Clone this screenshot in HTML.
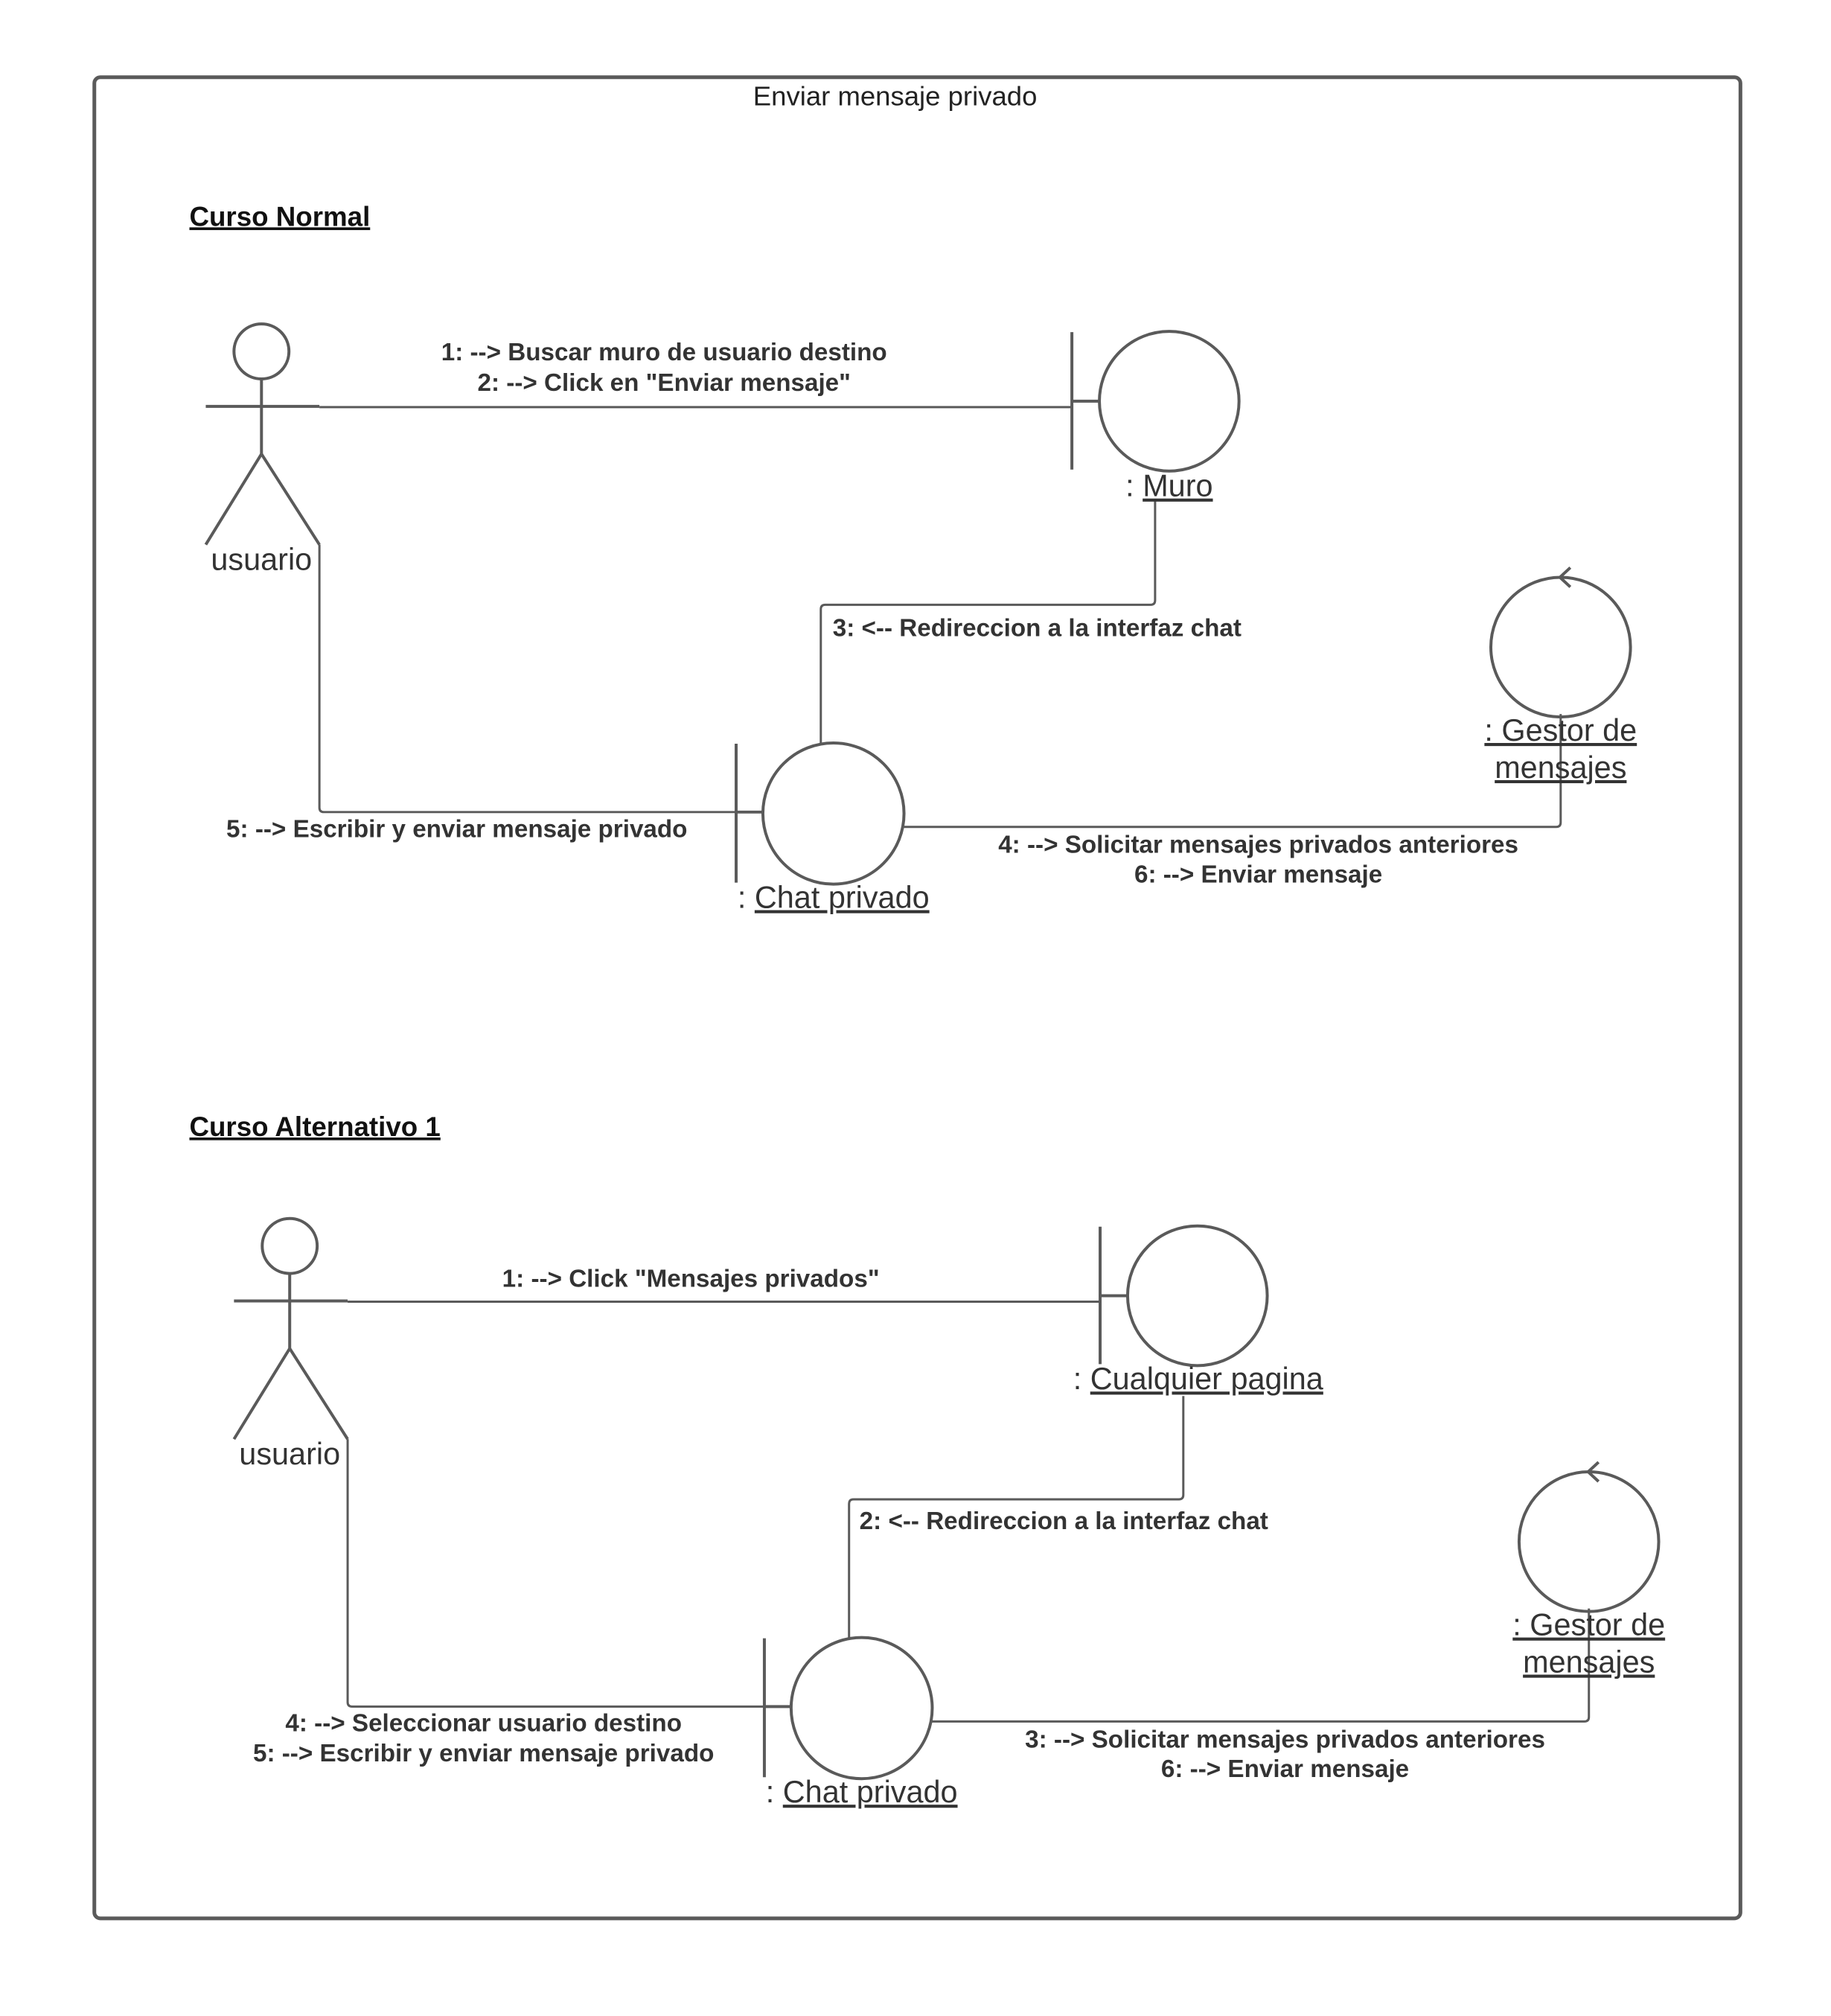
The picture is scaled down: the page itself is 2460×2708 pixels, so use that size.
<!DOCTYPE html>
<html><head><meta charset="utf-8"><style>
html,body{margin:0;padding:0;background:#fff;}
svg{display:block;}
text{font-family:"Liberation Sans",sans-serif;fill:#333;}
.b{font-weight:bold;font-size:33.3px;}
.n{font-size:41.5px;}
</style></head><body>
<svg width="2460" height="2708" viewBox="0 0 2460 2708" xmlns="http://www.w3.org/2000/svg">
<defs>
<g id="shapes" fill="none" stroke="#5a5a5a" stroke-width="4">
  <circle cx="352" cy="473" r="37"/>
  <line x1="352" y1="510" x2="352" y2="611"/>
  <line x1="277" y1="547" x2="430" y2="547"/>
  <line x1="352" y1="611" x2="277" y2="733"/>
  <line x1="352" y1="611" x2="430" y2="733"/>
  <line x1="430" y1="548" x2="1443" y2="548" stroke-width="3"/>
  <line x1="1443" y1="447" x2="1443" y2="632"/>
  <line x1="1443" y1="540" x2="1480" y2="540"/>
  <circle cx="1574" cy="540" r="94"/>
  <path d="M1555 675 V808 Q1555 814 1549 814 H1111 Q1105 814 1105 820 V1000" stroke-width="3"/>
  <line x1="991" y1="1001" x2="991" y2="1188"/>
  <line x1="991" y1="1093" x2="1028" y2="1093"/>
  <circle cx="1122" cy="1095" r="95"/>
  <path d="M430 733 V1087 Q430 1093 436 1093 H991" stroke-width="3"/>
  <path d="M1217 1113 H2095 Q2101 1113 2101 1107 V961" stroke-width="3"/>
  <circle cx="2101" cy="871" r="94"/>
  <polyline points="2114,764 2100,777 2114,790" stroke-width="4"/>
</g>
</defs>
<g transform="translate(0,0) scale(0.998)">
<rect x="127" y="104" width="2216" height="2478" rx="8" fill="none" stroke="#5a5a5a" stroke-width="5"/>
<text x="1205" y="142" text-anchor="middle" style="font-size:36.6px;fill:#222">Enviar mensaje privado</text>

<text x="255" y="304" style="font-size:36.8px;font-weight:bold;fill:#111;text-decoration:underline">Curso Normal</text>
<use href="#shapes"/>
<text class="n" x="352" y="767" text-anchor="middle">usuario</text>
<text class="b" x="894" y="485" text-anchor="middle">1: --&gt; Buscar muro de usuario destino</text>
<text class="b" x="894" y="526" text-anchor="middle">2: --&gt; Click en "Enviar mensaje"</text>
<text class="n" x="1574" y="668" text-anchor="middle">: <tspan text-decoration="underline">Muro</tspan></text>
<text class="b" x="1121" y="856">3: &lt;-- Redireccion a la interfaz chat</text>
<text class="n" x="1122" y="1222" text-anchor="middle">: <tspan text-decoration="underline">Chat privado</tspan></text>
<text class="b" x="615" y="1127" text-anchor="middle">5: --&gt; Escribir y enviar mensaje privado</text>
<text class="n" x="2101" y="997" text-anchor="middle" text-decoration="underline">: Gestor de</text>
<text class="n" x="2101" y="1047" text-anchor="middle" text-decoration="underline">mensajes</text>
<text class="b" x="1694" y="1148" text-anchor="middle">4: --&gt; Solicitar mensajes privados anteriores</text>
<text class="b" x="1694" y="1188" text-anchor="middle">6: --&gt; Enviar mensaje</text>

<text x="255" y="1529" style="font-size:36.8px;font-weight:bold;fill:#111;text-decoration:underline">Curso Alternativo 1</text>
<g transform="translate(38,1204)">
<use href="#shapes"/>
<text class="n" x="352" y="767" text-anchor="middle">usuario</text>
<text class="b" x="892" y="528" text-anchor="middle">1: --&gt; Click "Mensajes privados"</text>
<text class="n" x="1575" y="666" text-anchor="middle">: <tspan text-decoration="underline">Cualquier pagina</tspan></text>
<text class="b" x="1119" y="854">2: &lt;-- Redireccion a la interfaz chat</text>
<text class="n" x="1122" y="1222" text-anchor="middle">: <tspan text-decoration="underline">Chat privado</tspan></text>
<text class="b" x="613" y="1126" text-anchor="middle">4: --&gt; Seleccionar usuario destino</text>
<text class="b" x="613" y="1167" text-anchor="middle">5: --&gt; Escribir y enviar mensaje privado</text>
<text class="n" x="2101" y="997" text-anchor="middle" text-decoration="underline">: Gestor de</text>
<text class="n" x="2101" y="1047" text-anchor="middle" text-decoration="underline">mensajes</text>
<text class="b" x="1692" y="1148" text-anchor="middle">3: --&gt; Solicitar mensajes privados anteriores</text>
<text class="b" x="1692" y="1188" text-anchor="middle">6: --&gt; Enviar mensaje</text>
</g>
</g>
</svg>
</body></html>
